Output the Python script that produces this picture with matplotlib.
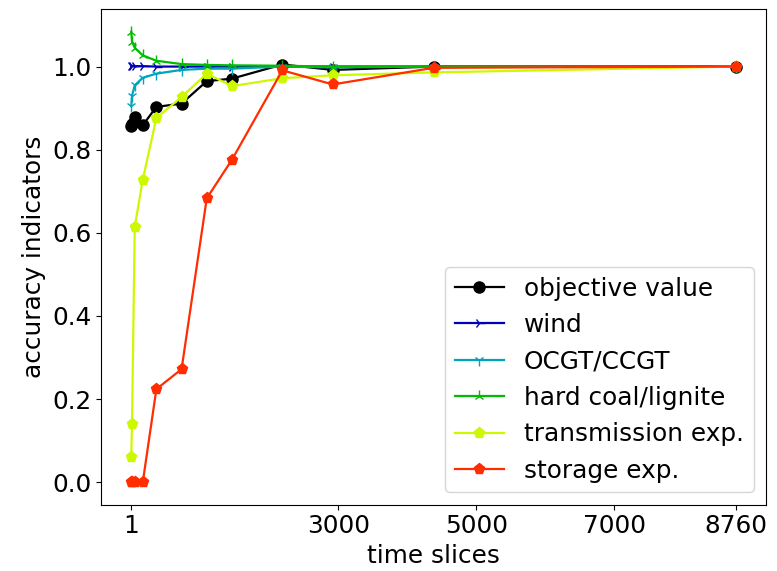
import matplotlib
matplotlib.use("Agg")
import matplotlib.pyplot as plt
import numpy as np

# number of time slices used for the reduced runs
slices = [1, 12, 52, 168, 365, 730, 1095, 1460, 2190, 2920, 4380, 8760]

# ratio of reduced-model result to full-resolution result
objective = [0.857, 0.862, 0.878, 0.859, 0.903, 0.911, 0.965, 0.971, 1.005, 0.992, 1.0, 1.0]
wind = [1.002, 1.002, 1.001, 1.001, 1.0, 1.0, 1.0, 1.0, 1.0, 1.0, 1.0, 1.0]
ocgt_ccgt = [0.905, 0.93, 0.955, 0.973, 0.983, 0.992, 0.995, 0.995, 1.0, 0.998, 1.0, 1.0]
coal = [1.084, 1.06, 1.045, 1.027, 1.014, 1.006, 1.004, 1.003, 1.002, 1.0, 1.0, 1.0]
transmission = [0.06, 0.14, 0.615, 0.728, 0.876, 0.927, 0.983, 0.953, 0.972, 0.979, 0.986, 1.0]
storage = [0.0, 0.0, 0.0, 0.0, 0.224, 0.272, 0.683, 0.776, 0.991, 0.957, 0.997, 1.0]

labels = ["objective value", "wind", "OCGT/CCGT", "hard coal/lignite",
          "transmission exp.", "storage exp."]
markers = ["o", "4", "1", "2", "p", "p"]
series = [objective, wind, ocgt_ccgt, coal, transmission, storage]
xticks = [1, 3000, 5000, 7000, 8760]

colors = plt.cm.nipy_spectral(np.linspace(0, 1, 7))[:6]

plt.rcParams["font.size"] = 17.8
fig, ax = plt.subplots(figsize=(7.77, 5.71), dpi=100)
fig.subplots_adjust(left=0.130, right=0.986, top=0.984, bottom=0.116)

for vals, lab, mk, col in zip(series, labels, markers, colors):
    ax.plot(slices, vals, marker=mk, color=col, label=lab, markersize=8, linewidth=1.6)

ax.set_xticks(xticks)
ax.set_xticklabels([str(t) for t in xticks])
ax.set_xlabel("time slices")
ax.set_ylabel("accuracy indicators")
ax.legend(loc="lower right")

fig.savefig("out.png", dpi=100)
